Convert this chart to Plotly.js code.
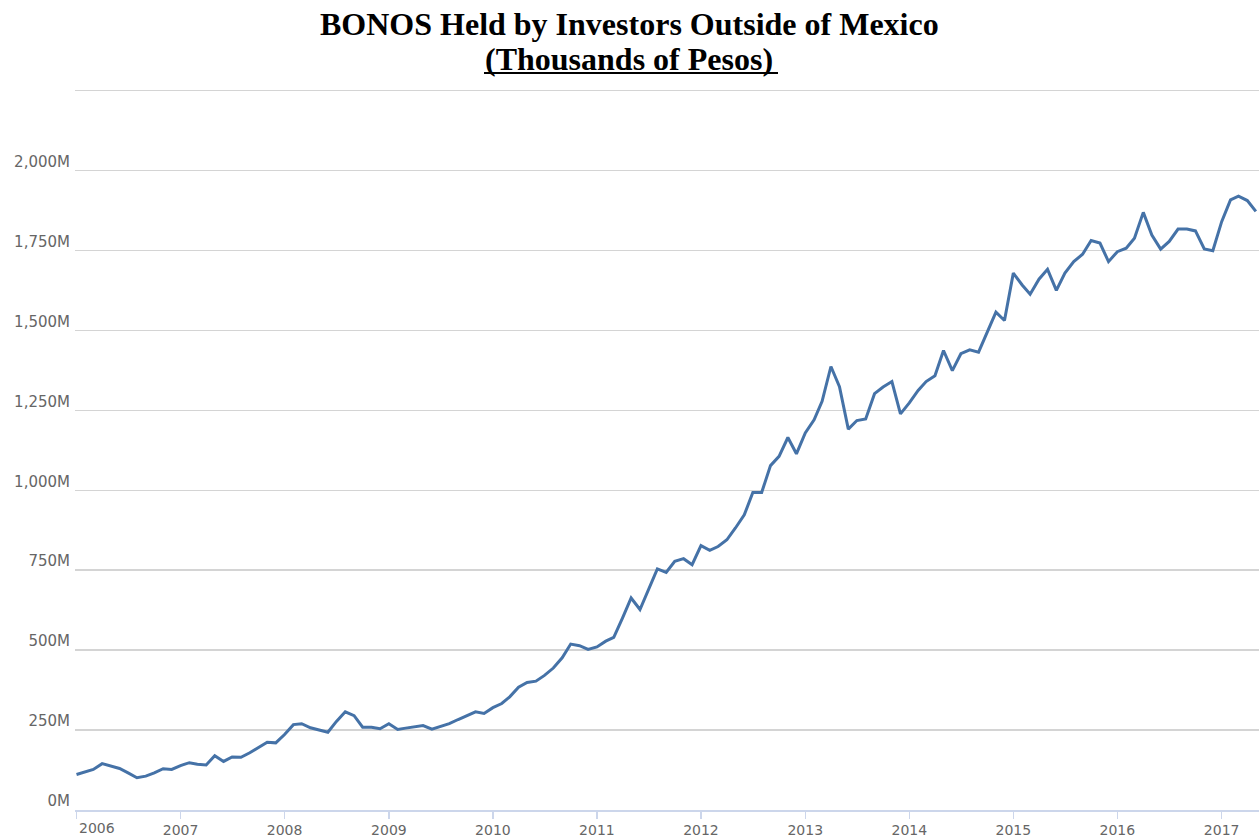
<!DOCTYPE html>
<html>
<head>
<meta charset="utf-8">
<script src="https://cdn.plot.ly/plotly-3.0.1.min.js"></script>
<style>html,body{margin:0;padding:0;background:#fff;}#chart{width:1259px;height:840px;}</style>
</head>
<body>
<div id="chart"></div>
<script>
// Monthly observation dates
const months = [
  "2006-01-01","2006-02-01","2006-03-01","2006-04-01","2006-05-01","2006-06-01","2006-07-01","2006-08-01","2006-09-01","2006-10-01","2006-11-01","2006-12-01",
  "2007-01-01","2007-02-01","2007-03-01","2007-04-01","2007-05-01","2007-06-01","2007-07-01","2007-08-01","2007-09-01","2007-10-01","2007-11-01","2007-12-01",
  "2008-01-01","2008-02-01","2008-03-01","2008-04-01","2008-05-01","2008-06-01","2008-07-01","2008-08-01","2008-09-01","2008-10-01","2008-11-01","2008-12-01",
  "2009-01-01","2009-02-01","2009-03-01","2009-04-01","2009-05-01","2009-06-01","2009-07-01","2009-08-01","2009-09-01","2009-10-01","2009-11-01","2009-12-01",
  "2010-01-01","2010-02-01","2010-03-01","2010-04-01","2010-05-01","2010-06-01","2010-07-01","2010-08-01","2010-09-01","2010-10-01","2010-11-01","2010-12-01",
  "2011-01-01","2011-02-01","2011-03-01","2011-04-01","2011-05-01","2011-06-01","2011-07-01","2011-08-01","2011-09-01","2011-10-01","2011-11-01","2011-12-01",
  "2012-01-01","2012-02-01","2012-03-01","2012-04-01","2012-05-01","2012-06-01","2012-07-01","2012-08-01","2012-09-01","2012-10-01","2012-11-01","2012-12-01",
  "2013-01-01","2013-02-01","2013-03-01","2013-04-01","2013-05-01","2013-06-01","2013-07-01","2013-08-01","2013-09-01","2013-10-01","2013-11-01","2013-12-01",
  "2014-01-01","2014-02-01","2014-03-01","2014-04-01","2014-05-01","2014-06-01","2014-07-01","2014-08-01","2014-09-01","2014-10-01","2014-11-01","2014-12-01",
  "2015-01-01","2015-02-01","2015-03-01","2015-04-01","2015-05-01","2015-06-01","2015-07-01","2015-08-01","2015-09-01","2015-10-01","2015-11-01","2015-12-01",
  "2016-01-01","2016-02-01","2016-03-01","2016-04-01","2016-05-01","2016-06-01","2016-07-01","2016-08-01","2016-09-01","2016-10-01","2016-11-01","2016-12-01",
  "2017-01-01","2017-02-01","2017-03-01","2017-04-01","2017-05-01"
];

// Holdings, millions (of thousands of pesos)
const holdings = [
  111,119,127,145,137,130,116,101,106,116,129,127,
  139,148,143,141,170,152,166,165,179,194,212,210,
  236,267,270,257,249,243,277,307,295,259,259,254,
  270,252,256,260,264,253,261,270,283,296,307,302,
  320,333,354,384,399,403,421,444,476,519,514,502,
  510,528,540,601,663,627,691,754,743,778,786,767,
  827,812,824,845,882,923,993,993,1077,1106,1165,1114,
  1179,1220,1278,1387,1324,1191,1218,1223,1302,1323,1340,1239,
  1273,1312,1340,1358,1437,1374,1427,1439,1432,1496,1557,1531,
  1679,1642,1613,1660,1691,1625,1679,1715,1738,1781,1773,1715,
  1746,1757,1788,1869,1798,1754,1778,1817,1817,1811,1755,1749,
  1840,1908,1920,1906,1872
];

// Axis ticks
const yTickVals = [0,250,500,750,1000,1250,1500,1750,2000,2250];
const yTickText = ["0M","250M","500M","750M","1,000M","1,250M","1,500M","1,750M","2,000M",""];
const xTickVals = ["2006-01-01","2007-01-01","2008-01-01","2009-01-01","2010-01-01","2011-01-01","2012-01-01","2013-01-01","2014-01-01","2015-01-01","2016-01-01","2017-01-01"];
const xTickText = ["","2007","2008","2009","2010","2011","2012","2013","2014","2015","2016","2017"];

const titleLine1 = "BONOS Held by Investors Outside of Mexico";
const titleLine2 = "(Thousands of Pesos)";

const trace = {
  x: months,
  y: holdings,
  type: "scatter",
  mode: "lines",
  line: {color: "#4572a7", width: 3},
  hoverinfo: "x+y"
};

const xFont = {family: "DejaVu Sans, sans-serif", size: 14, color: "#666666"};
const yFont = {family: "DejaVu Sans, sans-serif", size: 15, color: "#666666"};
const titleFont = {family: "Liberation Serif, Times New Roman, serif", size: 32, color: "#000000"};

const layout = {
  width: 1259,
  height: 840,
  margin: {l: 75, r: 0, t: 88, b: 29.5, pad: 0},
  paper_bgcolor: "#ffffff",
  plot_bgcolor: "#ffffff",
  showlegend: false,
  xaxis: {
    type: "date",
    range: ["2005-12-26 17:00", "2017-05-12"],
    tickmode: "array",
    tickvals: xTickVals,
    ticktext: xTickText,
    showgrid: false,
    zeroline: false,
    showline: true,
    linecolor: "#ccd6eb",
    linewidth: 1.5,
    ticks: "outside",
    ticklen: 7,
    tickwidth: 1.5,
    tickcolor: "#ccd6eb",
    tickfont: xFont,
    ticklabelstandoff: 0
  },
  yaxis: {
    range: [0, 2258],
    tickmode: "array",
    tickvals: yTickVals,
    ticktext: yTickText,
    showgrid: true,
    gridcolor: "#d4d4d4",
    gridwidth: 1.5,
    zeroline: false,
    showline: false,
    ticks: "",
    tickfont: yFont,
    ticklabelshift: -9,
    ticklabelstandoff: 4
  },
  shapes: [
    {type: "line", xref: "paper", yref: "paper",
     x0: (484 - 75) / 1184, x1: (778 - 75) / 1184,
     y0: (810.5 - 73) / 722.5, y1: (810.5 - 73) / 722.5,
     line: {color: "#000000", width: 2}}
  ],
  annotations: [
    {xref: "paper", yref: "paper", x: 0.4683, y: (810.5 - 24) / 722.5, xanchor: "center", yanchor: "middle",
     text: "<b>" + titleLine1 + "</b>", showarrow: false, font: titleFont},
    {xref: "paper", yref: "paper", x: 0.4683, y: (810.5 - 59) / 722.5, xanchor: "center", yanchor: "middle",
     text: "<b>" + titleLine2 + "</b>", showarrow: false, font: titleFont},
    {xref: "x", yref: "paper", x: "2006-01-01", y: 0, xanchor: "left", yanchor: "top", yshift: -8,
     text: "2006", showarrow: false, font: xFont}
  ]
};

Plotly.newPlot("chart", [trace], layout, {displayModeBar: false, staticPlot: true});
</script>
</body>
</html>
